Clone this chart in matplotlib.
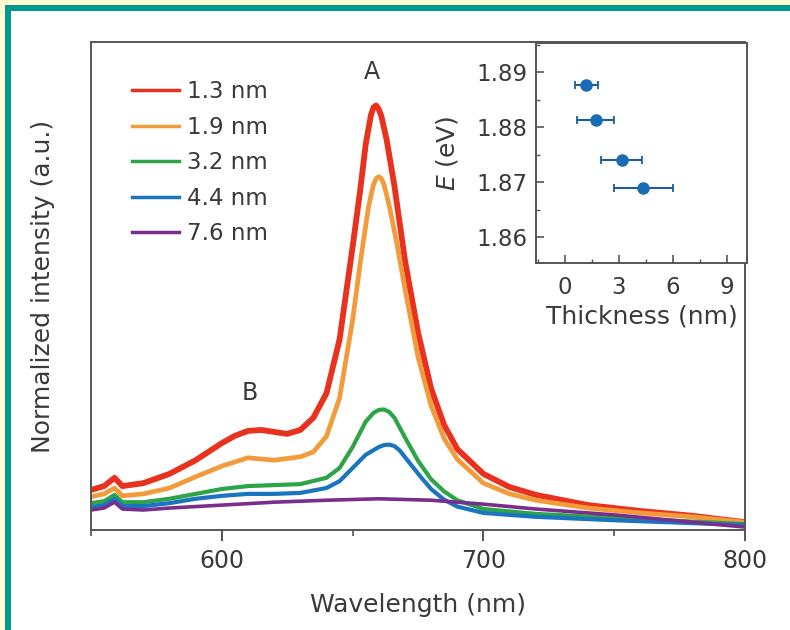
import numpy as np
import matplotlib
matplotlib.use("Agg")
import matplotlib.pyplot as plt
from matplotlib.patches import Rectangle
from matplotlib.ticker import MultipleLocator

# ---- spectra, wavelength in nm, intensity in a.u.
wl_red = [550, 555, 559, 562, 570, 580, 590, 600, 605, 610, 615, 620, 625, 630, 635, 640, 645,
          650, 653, 655, 657, 658, 659, 660, 661, 663, 666, 670, 675, 680, 685, 690, 700, 710,
          720, 740, 760, 780, 800]
int_red = [0.082, 0.090, 0.107, 0.090, 0.096, 0.115, 0.143, 0.178, 0.193, 0.203, 0.205, 0.201,
           0.197, 0.205, 0.230, 0.280, 0.390, 0.580, 0.700, 0.790, 0.850, 0.866, 0.870, 0.862,
           0.848, 0.800, 0.705, 0.553, 0.405, 0.290, 0.215, 0.166, 0.115, 0.088, 0.072, 0.051,
           0.039, 0.029, 0.016]

wl_orange = [550, 555, 559, 562, 570, 580, 590, 600, 610, 620, 630, 635, 640, 645, 650, 653, 656,
             658, 659, 660, 661, 662, 664, 667, 670, 675, 680, 685, 690, 700, 710, 720, 740, 760,
             780, 800]
int_orange = [0.068, 0.074, 0.086, 0.070, 0.074, 0.086, 0.109, 0.131, 0.148, 0.143, 0.150, 0.160,
              0.192, 0.270, 0.430, 0.550, 0.660, 0.708, 0.720, 0.724, 0.720, 0.708, 0.665, 0.585,
              0.495, 0.355, 0.255, 0.187, 0.145, 0.096, 0.074, 0.061, 0.045, 0.035, 0.027, 0.016]

wl_green = [550, 555, 559, 562, 570, 580, 590, 600, 610, 620, 630, 640, 645, 650, 655, 658, 660,
            662, 664, 666, 670, 675, 680, 685, 690, 700, 720, 750, 800]
int_green = [0.055, 0.059, 0.072, 0.057, 0.057, 0.064, 0.074, 0.084, 0.090, 0.092, 0.094, 0.107,
             0.127, 0.170, 0.222, 0.240, 0.246, 0.247, 0.242, 0.230, 0.190, 0.142, 0.104, 0.079,
             0.061, 0.043, 0.033, 0.025, 0.012]

wl_blue = [550, 555, 559, 562, 570, 580, 590, 600, 610, 620, 630, 640, 645, 650, 655, 660, 662,
           664, 666, 668, 672, 676, 680, 685, 690, 700, 720, 750, 800]
int_blue = [0.047, 0.051, 0.064, 0.049, 0.049, 0.055, 0.064, 0.070, 0.074, 0.074, 0.076, 0.086,
            0.100, 0.127, 0.154, 0.170, 0.174, 0.175, 0.172, 0.163, 0.136, 0.109, 0.084, 0.062,
            0.048, 0.035, 0.027, 0.020, 0.010]

wl_purple = [550, 555, 559, 562, 570, 580, 600, 620, 640, 660, 680, 700, 720, 750, 800]
int_purple = [0.041, 0.045, 0.057, 0.043, 0.041, 0.045, 0.051, 0.057, 0.061, 0.064, 0.061, 0.053,
              0.043, 0.031, 0.006]

labels = ["1.3 nm", "1.9 nm", "3.2 nm", "4.4 nm", "7.6 nm"]
colors = ["#e8321e", "#f39a3a", "#2ea448", "#1a74c0", "#7b2d8e"]

# ---- inset: A-peak energy vs thickness
thickness = [1.2, 1.7, 3.15, 4.35]
thickness_err = [0.65, 1.0, 1.15, 1.65]
energy = [1.8876, 1.8813, 1.8741, 1.8690]

txt = "#3a3a3a"
plt.rcParams.update({
    "font.family": "DejaVu Sans",
    "font.size": 17,
    "text.color": txt,
    "axes.labelcolor": txt,
    "xtick.color": "#555555",
    "ytick.color": "#555555",
    "xtick.labelcolor": txt,
    "ytick.labelcolor": txt,
    "axes.edgecolor": "#555555",
    "axes.linewidth": 1.4,
})

fig = plt.figure(figsize=(7.9, 6.3), dpi=100)
fig.patch.set_facecolor("white")
# yellow page edge + teal frame (top and left)
fig.patches.append(Rectangle((0, 0), 1, 1, transform=fig.transFigure, facecolor="#fffcd2",
                             edgecolor="none", zorder=-3))
fig.patches.append(Rectangle((5 / 790, 0), 1, 625 / 630, transform=fig.transFigure,
                             facecolor="#00998f", edgecolor="none", zorder=-2))
fig.patches.append(Rectangle((11 / 790, 0), 1, 619 / 630, transform=fig.transFigure,
                             facecolor="white", edgecolor="none", zorder=-1))

ax = fig.add_axes([91 / 790, 100 / 630, 654 / 790, 488 / 630])
series = [(wl_red, int_red), (wl_orange, int_orange), (wl_green, int_green),
          (wl_blue, int_blue), (wl_purple, int_purple)]
widths = [4.2, 3.4, 3.0, 3.0, 2.6]
for (wl, it), lab, c, lw in zip(series, labels, colors, widths):
    ax.plot(wl, it, color=c, lw=lw, label=lab, solid_joinstyle="round")

ax.set_xlim(550, 800)
ax.set_ylim(0, 1)
ax.set_xticks([600, 700, 800])
ax.xaxis.set_minor_locator(MultipleLocator(50))
ax.set_yticks([])
ax.tick_params(axis="x", which="major", direction="out", length=8, width=1.4, labelsize=17, pad=6)
ax.tick_params(axis="x", which="minor", direction="out", length=4, width=1.2)
ax.set_xlabel("Wavelength (nm)", fontsize=18, labelpad=14)
ax.set_ylabel("Normalized intensity (a.u.)", fontsize=18, labelpad=26)

ax.text(657.3, 0.939, "A", fontsize=17, ha="center", va="center")
ax.text(610.7, 0.281, "B", fontsize=17, ha="center", va="center")

leg = ax.legend(loc="upper left", bbox_to_anchor=(0.063, 0.922), frameon=False, fontsize=16.5,
                handlelength=2.05, handletextpad=0.35, labelspacing=0.55, borderpad=0,
                borderaxespad=0)
for h in leg.get_lines():
    h.set_linewidth(2.5)

# ---- inset
ins = fig.add_axes([536 / 790, 367 / 630, 211 / 790, 220 / 630])
ins.errorbar(thickness, energy, xerr=thickness_err, fmt="o", color="#1a6bb5", ecolor="#1d5d9c",
             markersize=8, elinewidth=1.5, capsize=3, capthick=1.3)
ins.set_xlim(-1.6, 10.1)
ins.set_ylim(1.8553, 1.8953)
ins.set_xticks([0, 3, 6, 9])
ins.set_yticks([1.86, 1.87, 1.88, 1.89])
ins.xaxis.set_minor_locator(MultipleLocator(1.5))
ins.yaxis.set_minor_locator(MultipleLocator(0.005))
ins.tick_params(which="major", direction="in", length=6, width=1.2, labelsize=16.5, pad=6)
ins.tick_params(axis="x", which="major", pad=9)
ins.tick_params(which="minor", direction="in", length=3, width=1.0)
ins.set_xlabel("Thickness (nm)", fontsize=18, labelpad=4)
ins.set_ylabel(r"$\mathit{E}$ (eV)", fontsize=18, labelpad=12)

fig.savefig("out.png", dpi=100, facecolor=fig.get_facecolor())
